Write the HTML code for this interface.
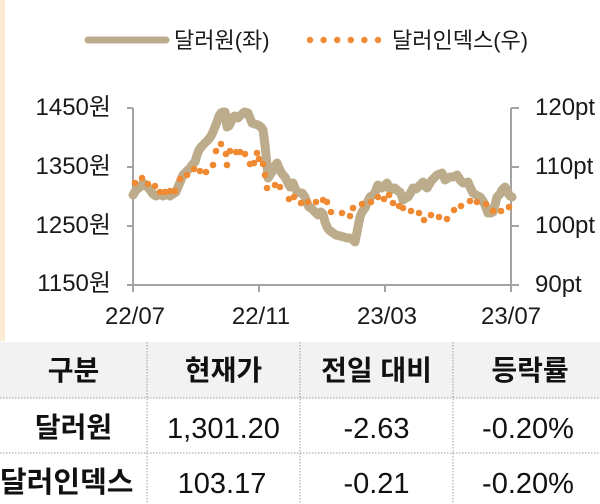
<!DOCTYPE html>
<html>
<head>
<meta charset="utf-8">
<style>
html,body{margin:0;padding:0;background:#fff;}
body{width:600px;height:504px;overflow:hidden;position:relative;}
svg{display:block;}
text{font-family:"Liberation Sans","Noto Sans CJK KR",sans-serif;}
</style>
</head>
<body>
<svg width="600" height="504" viewBox="0 0 600 504" xmlns="http://www.w3.org/2000/svg">
  <!-- left strip -->
  <rect x="0" y="0" width="5" height="341" fill="#fdead2"/>

  <!-- legend -->
  <line x1="88" y1="40" x2="166" y2="40" stroke="#bcac8c" stroke-width="7" stroke-linecap="round"/>
  <text x="174" y="48" font-size="22" fill="#1a1a1a">달러원(좌)</text>
  <g fill="#ef8a33">
    <circle cx="310" cy="40" r="3.2"/><circle cx="323.6" cy="40" r="3.2"/><circle cx="337.2" cy="40" r="3.2"/>
    <circle cx="350.8" cy="40" r="3.2"/><circle cx="364.4" cy="40" r="3.2"/><circle cx="378" cy="40" r="3.2"/>
  </g>
  <text x="392" y="48" font-size="22" fill="#1a1a1a">달러인덱스(우)</text>

  <!-- axes -->
  <g stroke="#a3a3a3" stroke-width="2" fill="none">
    <line x1="133" y1="108" x2="133" y2="286"/>
    <line x1="511" y1="108" x2="511" y2="286"/>
    <line x1="132" y1="285" x2="512" y2="285"/>
    <line x1="127" y1="108" x2="133" y2="108"/>
    <line x1="127" y1="167" x2="133" y2="167"/>
    <line x1="127" y1="226" x2="133" y2="226"/>
    <line x1="127" y1="285" x2="133" y2="285"/>
    <line x1="511" y1="108" x2="519" y2="108"/>
    <line x1="511" y1="167" x2="519" y2="167"/>
    <line x1="511" y1="226" x2="519" y2="226"/>
    <line x1="511" y1="285" x2="519" y2="285"/>
    <line x1="133" y1="285" x2="133" y2="292"/>
    <line x1="259" y1="285" x2="259" y2="292"/>
    <line x1="385" y1="285" x2="385" y2="292"/>
    <line x1="511" y1="285" x2="511" y2="292"/>
  </g>

  <!-- axis labels -->
  <g font-size="24" fill="#1a1a1a" text-anchor="end">
    <text x="111" y="115">1450원</text>
    <text x="111" y="174">1350원</text>
    <text x="111" y="233">1250원</text>
    <text x="111" y="291">1150원</text>
  </g>
  <g font-size="24" fill="#1a1a1a">
    <text x="535" y="115">120pt</text>
    <text x="535" y="174">110pt</text>
    <text x="535" y="233">100pt</text>
    <text x="535" y="292">90pt</text>
  </g>
  <g font-size="24" fill="#1a1a1a" text-anchor="middle">
    <text x="135" y="324">22/07</text>
    <text x="261" y="324">22/11</text>
    <text x="387" y="324">23/03</text>
    <text x="511" y="324">23/07</text>
  </g>

  <!-- USD/KRW line -->
  <polyline fill="none" stroke="#bcac8c" stroke-width="9" stroke-linejoin="round" stroke-linecap="round"
   points="133,195 136,190 140,187 143,183 146,185 150,190 153,194 156,196 160,194 163,196 167,194 170,196 173,194 176,192 178,187 181,180 183,175 186,172 190,168 193,164 195,162 197,155 199,150 202,146 205,143 208,140 211,136 213,132 215,127 217,122 219,116 221,113 223,112 225,112 227,127 229,126 231,122 233,117 235,116 238,118 241,115 243,113 245,112 248,113 250,118 252,123 255,124 258,125 261,127 263,130 265,145 266,155 267,165 268,178 270,175 272,172 275,166 277,163 279,168 281,172 283,175 285,177 288,183 290,187 293,183 295,188 297,192 300,193 302,193 305,197 307,203 309,207 311,208 313,210 316,213 318,215 321,212 323,214 325,222 327,227 329,230 333,233 336,235 340,236 344,237 347,238 350,238 352,239 355,242 357,232 358,227 360,217 362,212 365,208 367,203 370,197 373,195 375,193 377,187 378,185 380,187 382,188 385,185 387,183 389,188 391,190 393,188 395,188 398,191 400,192 402,197 403,200 406,198 408,197 411,192 413,188 416,189 418,187 421,184 423,182 425,186 427,188 430,183 432,180 435,177 437,175 440,174 442,173 444,177 445,180 448,178 450,177 453,177 457,175 459,178 460,180 463,183 465,183 468,182 470,187 473,193 476,195 480,197 483,201 485,205 488,213 491,213 493,212 495,205 497,197 500,194 502,190 504,188 505,187 507,190 508,193 510,196 512,197"/>

  <!-- Dollar index dots -->
  <g fill="#ef8a33">
    <circle cx="135" cy="183" r="3.3"/><circle cx="142" cy="178" r="3.3"/><circle cx="148" cy="184" r="3.3"/>
    <circle cx="155" cy="186" r="3.3"/><circle cx="160" cy="192" r="3.3"/><circle cx="165" cy="192" r="3.3"/>
    <circle cx="170" cy="191" r="3.3"/><circle cx="175" cy="191" r="3.3"/><circle cx="180" cy="179" r="3.3"/>
    <circle cx="187" cy="175" r="3.3"/><circle cx="194" cy="169" r="3.3"/><circle cx="200" cy="171" r="3.3"/>
    <circle cx="206" cy="172" r="3.3"/><circle cx="213" cy="165" r="3.3"/><circle cx="216" cy="151" r="3.3"/>
    <circle cx="221" cy="144" r="3.3"/><circle cx="226" cy="154" r="3.3"/><circle cx="227" cy="165" r="3.3"/>
    <circle cx="230" cy="151" r="3.3"/><circle cx="236" cy="152" r="3.3"/><circle cx="240" cy="152" r="3.3"/>
    <circle cx="245" cy="154" r="3.3"/><circle cx="250" cy="164" r="3.3"/><circle cx="254" cy="163" r="3.3"/>
    <circle cx="257" cy="153" r="3.3"/><circle cx="259" cy="159" r="3.3"/><circle cx="263" cy="164" r="3.3"/>
    <circle cx="265" cy="175" r="3.3"/><circle cx="267" cy="188" r="3.3"/><circle cx="275" cy="185" r="3.3"/>
    <circle cx="280" cy="187" r="3.3"/><circle cx="289" cy="199" r="3.3"/><circle cx="294" cy="197" r="3.3"/>
    <circle cx="301" cy="203" r="3.3"/><circle cx="308" cy="202" r="3.3"/><circle cx="316" cy="202" r="3.3"/>
    <circle cx="323" cy="200" r="3.3"/><circle cx="327" cy="202" r="3.3"/><circle cx="331" cy="212" r="3.3"/>
    <circle cx="342" cy="213" r="3.3"/><circle cx="350" cy="216" r="3.3"/><circle cx="353" cy="208" r="3.3"/>
    <circle cx="362" cy="204" r="3.3"/><circle cx="371" cy="202" r="3.3"/><circle cx="378" cy="197" r="3.3"/>
    <circle cx="384" cy="199" r="3.3"/><circle cx="389" cy="195" r="3.3"/><circle cx="393" cy="203" r="3.3"/>
    <circle cx="399" cy="206" r="3.3"/><circle cx="403" cy="208" r="3.3"/><circle cx="411" cy="211" r="3.3"/>
    <circle cx="419" cy="213" r="3.3"/><circle cx="424" cy="220" r="3.3"/><circle cx="431" cy="215" r="3.3"/>
    <circle cx="439" cy="217" r="3.3"/><circle cx="447" cy="219" r="3.3"/><circle cx="454" cy="210" r="3.3"/>
    <circle cx="461" cy="206" r="3.3"/><circle cx="470" cy="201" r="3.3"/><circle cx="477" cy="202" r="3.3"/>
    <circle cx="486" cy="204" r="3.3"/><circle cx="493" cy="211" r="3.3"/><circle cx="501" cy="211" r="3.3"/>
    <circle cx="509" cy="207" r="3.3"/>
  </g>

  <!-- table -->
  <rect x="0" y="342" width="600" height="56" fill="#f2f2f2"/>
  <g stroke="#9a9a9a" stroke-width="1" stroke-dasharray="1.5,1.5">
    <line x1="0" y1="398" x2="600" y2="398"/>
    <line x1="0" y1="453" x2="600" y2="453"/>
    <line x1="147" y1="342" x2="147" y2="504"/>
    <line x1="300" y1="342" x2="300" y2="504"/>
    <line x1="453" y1="342" x2="453" y2="504"/>
  </g>
  <g font-size="28" font-weight="bold" fill="#111" text-anchor="middle">
    <text x="73.5" y="380">구분</text>
    <text x="223.5" y="380">현재가</text>
    <text x="376.5" y="380">전일 대비</text>
    <text x="530" y="380">등락률</text>
    <text x="73.5" y="437">달러원</text>
  </g>
  <text x="0" y="492" font-size="29" font-weight="bold" fill="#111">달러인덱스</text>
  <g font-size="29" fill="#111" text-anchor="middle">
    <text x="223.5" y="438">1,301.20</text>
    <text x="376.5" y="438">-2.63</text>
    <text x="528" y="438">-0.20%</text>
    <text x="222" y="493">103.17</text>
    <text x="376.5" y="493">-0.21</text>
    <text x="528" y="493">-0.20%</text>
  </g>
</svg>
</body>
</html>
